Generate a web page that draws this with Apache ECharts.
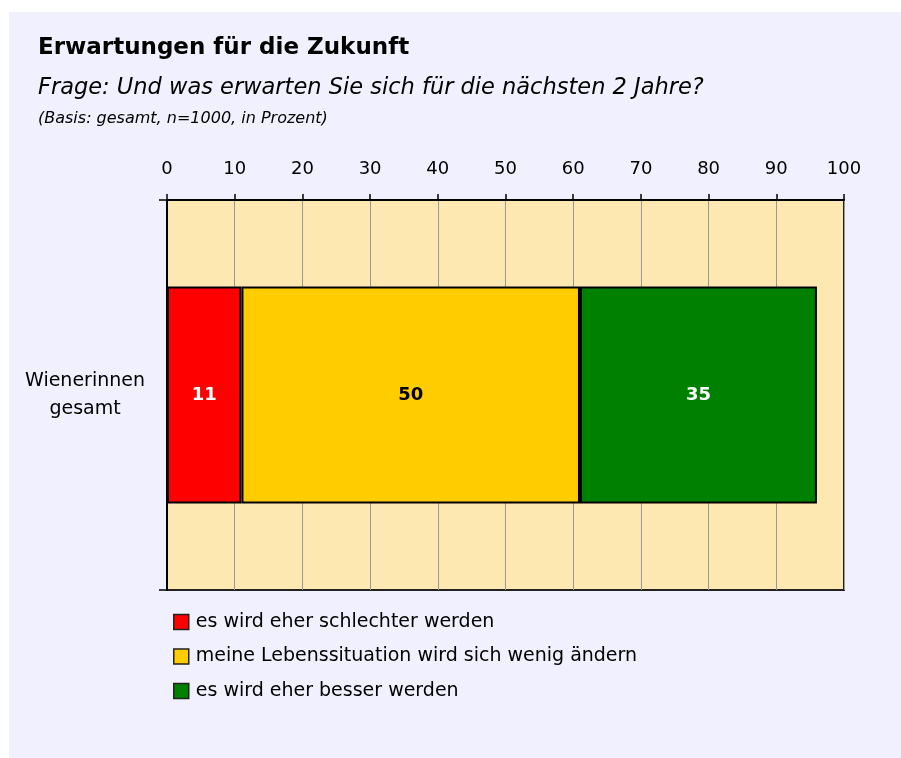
<!DOCTYPE html>
<html>
<head>
<meta charset="utf-8">
<script src="https://cdn.jsdelivr.net/npm/echarts@6/dist/echarts.min.js"></script>
<style>
  html, body { margin: 0; padding: 0; background: #ffffff; overflow: hidden; }
  #bg { position: absolute; left: 9px; top: 12px; width: 892px; height: 746px; background: #f0f0fe; }
  #chart { position: absolute; left: 0; top: 0; width: 901px; height: 758px; }
</style>
</head>
<body>
<div id="bg"></div>
<div id="chart"></div>
<script>
const categories = ['Wienerinnen\ngesamt'];
const seriesNames = [
  'es wird eher schlechter werden',
  'meine Lebenssituation wird sich wenig ändern',
  'es wird eher besser werden',
];
const worse = [11];
const same = [50];
const better = [35];
const colors = ['#ff0000', '#ffcc00', '#008000'];
const labelColors = ['#ffffff', '#000000', '#ffffff'];

const FONT = '"DejaVu Sans", sans-serif';

const myChart = echarts.init(document.getElementById('chart'), null, { renderer: 'canvas' });

const makeSeries = (name, data, i) => ({
  name,
  type: 'bar',
  stack: 'total',
  data,
  barWidth: '55.6%',
  itemStyle: { color: colors[i], borderColor: '#000', borderWidth: 2 },
  label: {
    show: true,
    position: 'inside',
    color: labelColors[i],
    fontFamily: FONT,
    fontWeight: 'bold',
    fontSize: 18,
  },
});

const option = {
  backgroundColor: 'transparent',
  animation: false,
  title: [
    {
      text: 'Erwartungen für die Zukunft',
      left: 33,
      top: 32,
      textStyle: { fontFamily: FONT, fontWeight: 'bold', fontSize: 23, color: '#000' },
    },
    {
      text: 'Frage: Und was erwarten Sie sich für die nächsten 2 Jahre?',
      left: 33,
      top: 72,
      textStyle: { fontFamily: FONT, fontStyle: 'italic', fontWeight: 'normal', fontSize: 22.5, color: '#000' },
    },
    {
      text: '(Basis: gesamt, n=1000, in Prozent)',
      left: 33,
      top: 106,
      textStyle: { fontFamily: FONT, fontStyle: 'italic', fontWeight: 'normal', fontSize: 16, color: '#000' },
    },
  ],
  legend: {
    orient: 'vertical',
    left: 168,
    top: 607,
    itemWidth: 15,
    itemHeight: 15,
    itemGap: 14.5,
    icon: 'rect',
    itemStyle: { borderColor: '#222', borderWidth: 1.5 },
    textStyle: { fontFamily: FONT, fontSize: 19, lineHeight: 20, color: '#000', padding: [0, 0, 0, 2] },
    data: seriesNames,
  },
  grid: {
    left: 167,
    top: 200,
    right: 57,
    bottom: 168,
    show: true,
    backgroundColor: '#fde8b2',
    borderColor: '#222',
    borderWidth: 2,
  },
  xAxis: {
    type: 'value',
    position: 'top',
    min: 0,
    max: 100,
    interval: 10,
    axisLine: { show: true, lineStyle: { color: '#000', width: 2 } },
    axisTick: { show: true, length: 6, lineStyle: { color: '#000', width: 1.5 } },
    axisLabel: { margin: 22, fontFamily: FONT, fontSize: 18, color: '#000' },
    splitLine: { show: true, lineStyle: { color: '#999', width: 1 } },
  },
  yAxis: {
    type: 'category',
    data: categories,
    boundaryGap: true,
    axisLine: { show: true, lineStyle: { color: '#000', width: 2 } },
    axisTick: { show: true, length: 8, lineStyle: { color: '#000', width: 1.5 } },
    axisLabel: {
      margin: 82,
      align: 'center',
      fontFamily: FONT,
      fontSize: 19,
      lineHeight: 28,
      color: '#000',
    },
  },
  series: [
    makeSeries(seriesNames[0], worse, 0),
    makeSeries(seriesNames[1], same, 1),
    makeSeries(seriesNames[2], better, 2),
  ],
};

myChart.setOption(option);
</script>
</body>
</html>
